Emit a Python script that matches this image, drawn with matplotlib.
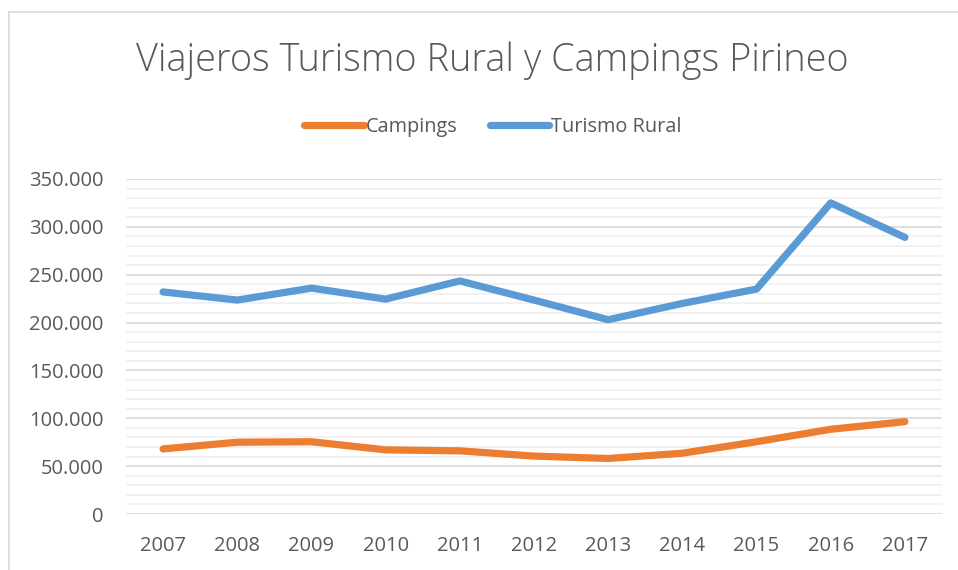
import matplotlib
matplotlib.use("Agg")
import matplotlib.pyplot as plt
from matplotlib.lines import Line2D
from matplotlib.ticker import MultipleLocator, FuncFormatter

years = ["2007", "2008", "2009", "2010", "2011", "2012",
         "2013", "2014", "2015", "2016", "2017"]
campings = [68000, 75000, 75500, 67000, 66000, 60500,
            58000, 63500, 75500, 88500, 96500]
turismo_rural = [232000, 223500, 236000, 224500, 243500, 223500,
                 203000, 220000, 235000, 325000, 289000]

ORANGE = "#ed7d31"
BLUE = "#5b9bd5"
TEXT = "#595959"

plt.rcParams["font.family"] = ["Open Sans", "DejaVu Sans"]

W, H = 958, 570
fig = plt.figure(figsize=(W / 100, H / 100), dpi=100)

# chart frame (only top/left edges visible in the crop)
fig.add_artist(Line2D([9 / W, 9 / W], [0, 1 - 12 / H], color="#d9d9d9", lw=1.2))
fig.add_artist(Line2D([9 / W, 1], [1 - 12 / H, 1 - 12 / H], color="#d9d9d9", lw=1.2))

ax = fig.add_axes([126 / W, (H - 514) / H, (942 - 126) / W, (514 - 179) / H])
x = list(range(len(years)))
ax.plot(x, campings, color=ORANGE, lw=5.2, solid_capstyle="round",
        solid_joinstyle="round", label="Campings", zorder=3)
ax.plot(x, turismo_rural, color=BLUE, lw=5.2, solid_capstyle="round",
        solid_joinstyle="round", label="Turismo Rural", zorder=3)

ax.set_xlim(-0.5, len(years) - 0.5)
ax.set_ylim(0, 350000)
ax.set_xticks(x)
ax.set_xticklabels(years)
ax.yaxis.set_major_locator(MultipleLocator(50000))
ax.yaxis.set_minor_locator(MultipleLocator(10000))
ax.yaxis.set_major_formatter(FuncFormatter(lambda v, _: f"{v:,.0f}".replace(",", ".")))
ax.grid(axis="y", which="major", color="#d9d9d9", lw=1.2, zorder=1)
ax.grid(axis="y", which="minor", color="#f0f0f0", lw=1.2, zorder=0)
ax.set_axisbelow(True)
for s in ax.spines.values():
    s.set_visible(False)
ax.tick_params(axis="both", which="both", length=0, colors=TEXT, labelsize=14.5)
ax.tick_params(axis="y", pad=16)
ax.tick_params(axis="x", pad=16)

fig.text(492 / W, 1 - 61 / H, "Viajeros Turismo Rural y Campings Pirineo",
         ha="center", va="center", fontsize=27.3, color=TEXT, fontweight="light")

fig.legend(loc="center", bbox_to_anchor=(493 / W, 1 - 127 / H), ncol=2,
           frameon=False, fontsize=14.3, labelcolor=TEXT, handlelength=3.0,
           handletextpad=0.1, columnspacing=1.6)

fig.savefig("out.png", dpi=100)
